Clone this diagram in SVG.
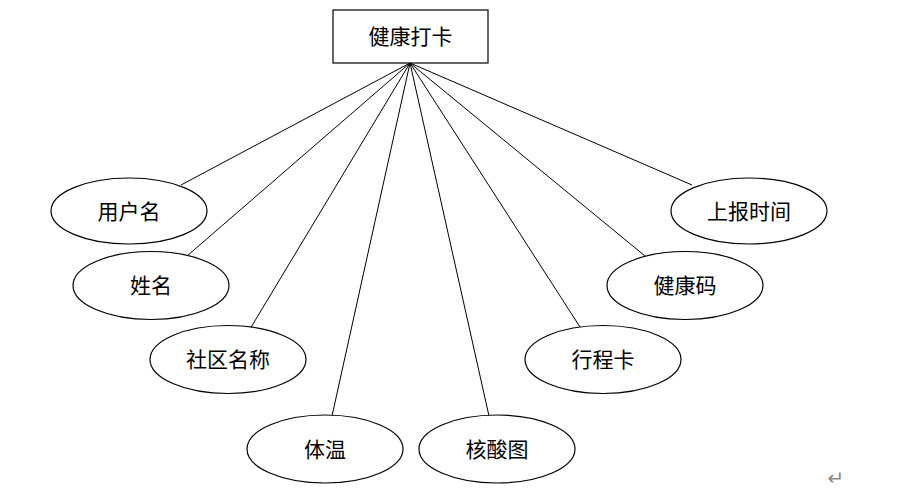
<svg xmlns="http://www.w3.org/2000/svg" width="915" height="495" viewBox="0 0 915 495">
<style>
.n{fill:#fff;stroke:#000;stroke-width:1.2}
.t{font-family:"Noto Sans CJK SC","Noto Sans",sans-serif;font-size:21px;fill:#000;text-anchor:middle;dominant-baseline:central}
.c{stroke:#000;stroke-width:1;fill:none}
</style>
<rect width="915" height="495" fill="#fff"/>
<g id="connectors">
<line class="c" x1="410" y1="63" x2="181" y2="185"/>
<line class="c" x1="410" y1="63" x2="187" y2="256"/>
<line class="c" x1="410" y1="63" x2="250" y2="329"/>
<line class="c" x1="410" y1="63" x2="332" y2="416"/>
<line class="c" x1="410" y1="63" x2="489" y2="416"/>
<line class="c" x1="410" y1="63" x2="580" y2="327"/>
<line class="c" x1="410" y1="63" x2="645" y2="256"/>
<line class="c" x1="410" y1="63" x2="692" y2="185"/>
</g>
<g id="root"><rect class="n" x="333" y="10" width="155" height="53"/><text class="t" x="410.5" y="35">健康打卡</text></g>
<g id="n1"><ellipse class="n" cx="129" cy="211" rx="78" ry="33"/><text class="t" x="129" y="210">用户名</text></g>
<g id="n2"><ellipse class="n" cx="151" cy="285.5" rx="78" ry="34"/><text class="t" x="151" y="284">姓名</text></g>
<g id="n3"><ellipse class="n" cx="228" cy="359.5" rx="78" ry="34"/><text class="t" x="228" y="358">社区名称</text></g>
<g id="n4"><ellipse class="n" cx="325" cy="449" rx="78" ry="34"/><text class="t" x="325" y="448">体温</text></g>
<g id="n5"><ellipse class="n" cx="497" cy="449" rx="78" ry="34"/><text class="t" x="497" y="448">核酸图</text></g>
<g id="n6"><ellipse class="n" cx="603" cy="359.5" rx="78" ry="34"/><text class="t" x="603" y="358">行程卡</text></g>
<g id="n7"><ellipse class="n" cx="685" cy="285.5" rx="78" ry="34"/><text class="t" x="685" y="284">健康码</text></g>
<g id="n8"><ellipse class="n" cx="749" cy="211" rx="78" ry="33"/><text class="t" x="749" y="210">上报时间</text></g>
<text x="836" y="485" style="font-family:'DejaVu Sans',sans-serif;font-size:20px;fill:#888;text-anchor:middle">↵</text>
</svg>
